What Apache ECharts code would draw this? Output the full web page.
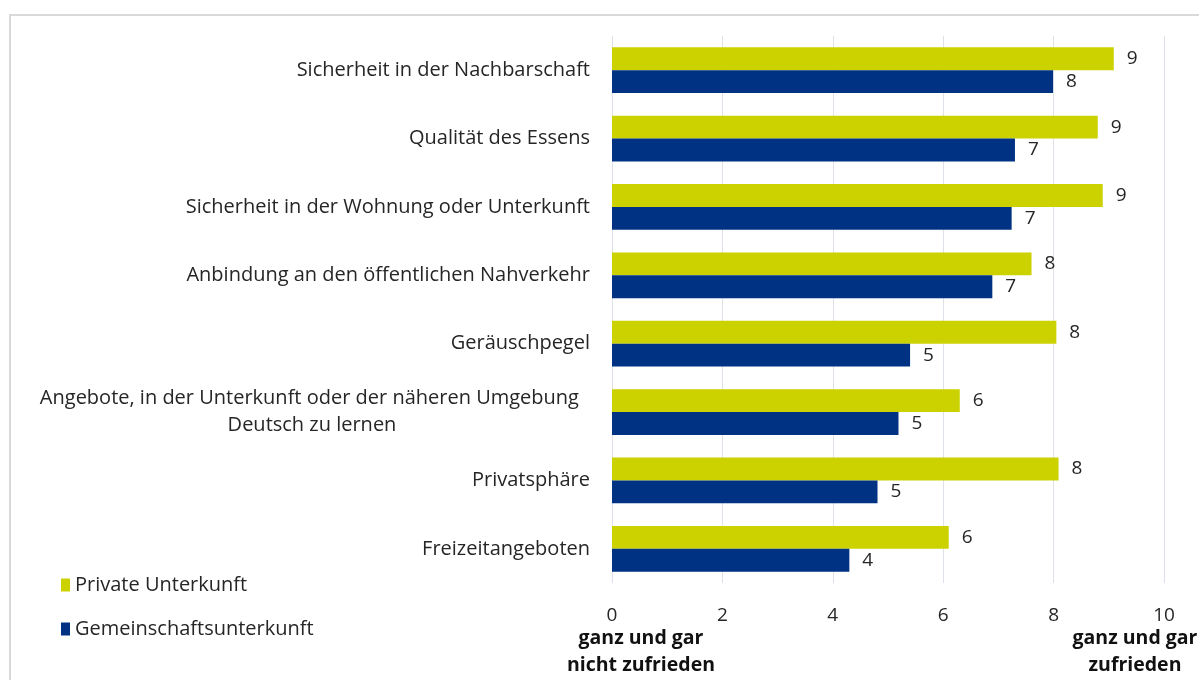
<!DOCTYPE html>
<html>
<head>
<meta charset="utf-8">
<style>
  html, body { margin: 0; padding: 0; background: #fff; }
  #chart { width: 1199px; height: 680px; }
</style>
<script src="https://cdn.jsdelivr.net/npm/echarts@6/dist/echarts.min.js"></script>
</head>
<body>
<div id="chart"></div>
<script>
// Zufriedenheit mit der Unterkunft – Private vs. Gemeinschaftsunterkunft

const categories = [
  'Sicherheit in der Nachbarschaft',
  'Qualität des Essens',
  'Sicherheit in der Wohnung oder Unterkunft',
  'Anbindung an den öffentlichen Nahverkehr',
  'Geräuschpegel',
  'Angebote, in der Unterkunft oder der näheren Umgebung \nDeutsch zu lernen',
  'Privatsphäre',
  'Freizeitangeboten',
];
const privateValues = [9.09, 8.8, 8.89, 7.6, 8.05, 6.3, 8.09, 6.1];
const communalValues = [7.99, 7.3, 7.24, 6.89, 5.4, 5.19, 4.81, 4.3];
const seriesNames = ['Private Unterkunft', 'Gemeinschaftsunterkunft'];
const xTicks = [0, 2, 4, 6, 8, 10];
const scaleEnds = ['ganz und gar\nnicht zufrieden', 'ganz und gar\nzufrieden'];

const FONT = 'Open Sans';
const TEXT = '#262626';
const colors = ['#ccd200', '#003283'];

const chart = echarts.init(document.getElementById('chart'));

function valueLabel() {
  return {
    show: true,
    position: 'right',
    distance: 13,
    fontSize: 19,
    fontFamily: FONT,
    color: TEXT,
    formatter: p => Math.round(p.value),
  };
}

function scaleEndText(x, text) {
  return {
    type: 'text',
    x,
    y: 625,
    style: {
      text,
      align: 'center',
      fontSize: 19.5,
      fontWeight: 'bold',
      fontFamily: FONT,
      fill: '#111',
      lineHeight: 27,
    },
  };
}

chart.setOption({
  animation: false,
  grid: { left: 612, right: 35, top: 36, height: 547, containLabel: false },
  legend: {
    orient: 'vertical',
    left: 56,
    top: 570,
    itemWidth: 9,
    itemHeight: 13,
    itemGap: 24,
    icon: 'rect',
    textStyle: { fontSize: 20, lineHeight: 20, fontFamily: FONT, color: TEXT },
    data: seriesNames,
  },
  xAxis: {
    type: 'value',
    min: xTicks[0],
    max: xTicks[xTicks.length - 1],
    interval: 2,
    axisLine: { show: false },
    axisTick: { show: false },
    axisLabel: { fontSize: 19, fontFamily: FONT, color: TEXT, margin: 23 },
    splitLine: { lineStyle: { color: '#dde1ea', width: 1 } },
  },
  yAxis: {
    type: 'category',
    inverse: true,
    data: categories,
    axisLine: { show: false },
    axisTick: { show: false },
    axisLabel: {
      margin: 22,
      fontSize: 20,
      fontFamily: FONT,
      color: TEXT,
      lineHeight: 27,
      formatter: v => v.includes('\n')
        ? v.split('\n').map(line => `{m|${line}}`).join('\n')
        : v,
      rich: {
        m: { width: 556, align: 'center', fontSize: 20, fontFamily: FONT, color: TEXT, lineHeight: 27 },
      },
    },
  },
  series: [
    {
      name: seriesNames[0],
      type: 'bar',
      data: privateValues,
      itemStyle: { color: colors[0] },
      barGap: '0%',
      barCategoryGap: '33%',
      label: valueLabel(),
    },
    {
      name: seriesNames[1],
      type: 'bar',
      data: communalValues,
      itemStyle: { color: colors[1] },
      barGap: '0%',
      barCategoryGap: '33%',
      label: valueLabel(),
    },
  ],
  graphic: [
    {
      type: 'rect',
      shape: { x: 10, y: 15, width: 1200, height: 700 },
      style: { fill: 'none', stroke: '#d9d9d9', lineWidth: 2 },
      silent: true,
    },
    scaleEndText(641, scaleEnds[0]),
    scaleEndText(1135, scaleEnds[1]),
  ],
});
</script>
</body>
</html>
